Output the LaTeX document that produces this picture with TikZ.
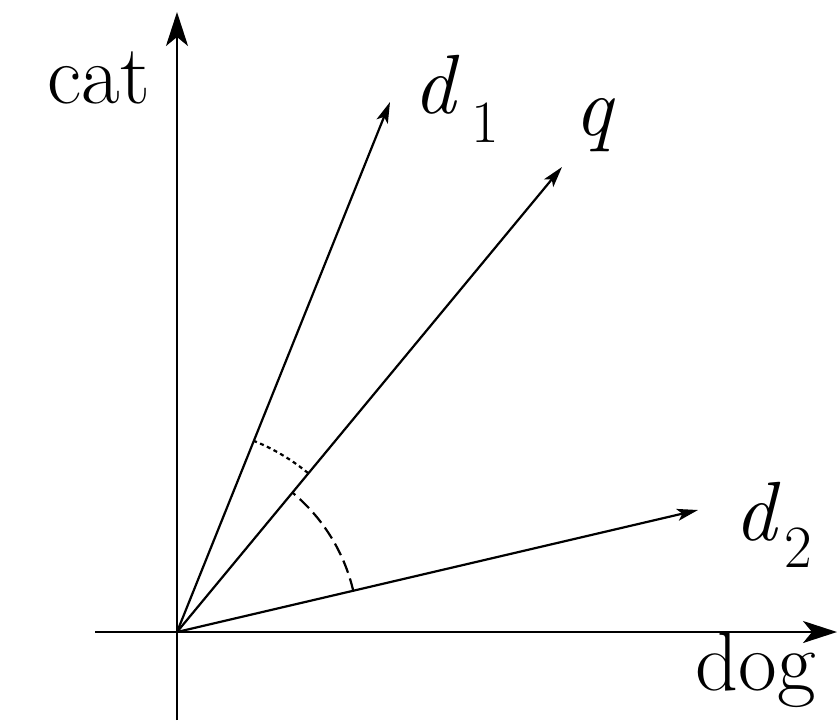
\documentclass[tikz,border=0pt]{standalone}
\usepackage{fontspec}
\usetikzlibrary{arrows.meta}
\begin{document}
\begin{tikzpicture}[x=1pt,y=-1pt,
  axis/.style={line width=2.4pt,-{Stealth[length=34pt,width=22pt,inset=9pt]}},
  vec/.style={line width=2.2pt,-{Stealth[length=21pt,width=12pt,inset=5pt]}},
  lbl/.style={inner sep=0pt,anchor=base,font=\fontsize{84}{90}\selectfont\addfontfeature{FakeBold=1}},
  angdot/.style={line width=2.2pt,dash pattern=on 4pt off 3.5pt},
  angdash/.style={line width=2.2pt,dash pattern=on 13pt off 6pt}]
\useasboundingbox (0,0) rectangle (837,724);
\coordinate (O) at (177,632);
\coordinate (xs) at (95,632);
\coordinate (xe) at (837,632);
\coordinate (ys) at (177,720);
\coordinate (ye) at (177,12);
\coordinate (d1) at (390,102);
\coordinate (q) at (562,167);
\coordinate (d2) at (698,510);
\draw[axis] (xs) -- (xe);
\draw[axis] (ys) -- (ye);
\draw[vec] (O) -- (d1);
\draw[vec] (O) -- (q);
\draw[vec] (O) -- (d2);
\draw[angdot] (O) ++(-50.5:206) arc[start angle=-50.5,end angle=-68,radius=206];
\draw[angdash] (O) ++(-13.1:181) arc[start angle=-13.1,end angle=-50.5,radius=181];
\node[lbl] (cat) at (99,103) {cat};
\node[lbl] (dog) at (756,690) {dog};
\node[lbl,anchor=base west] (ld1) at (413,113) {\textit{d}\raisebox{-29pt}{\hspace{12pt}{\fontsize{60}{60}\selectfont 1}}};
\node[lbl,anchor=base west] (lq) at (574,135) {\textit{q}};
\node[lbl,anchor=base west] (ld2) at (734,540) {\textit{d}\raisebox{-27pt}{\hspace{4pt}{\fontsize{60}{60}\selectfont 2}}};
\end{tikzpicture}
\end{document}
